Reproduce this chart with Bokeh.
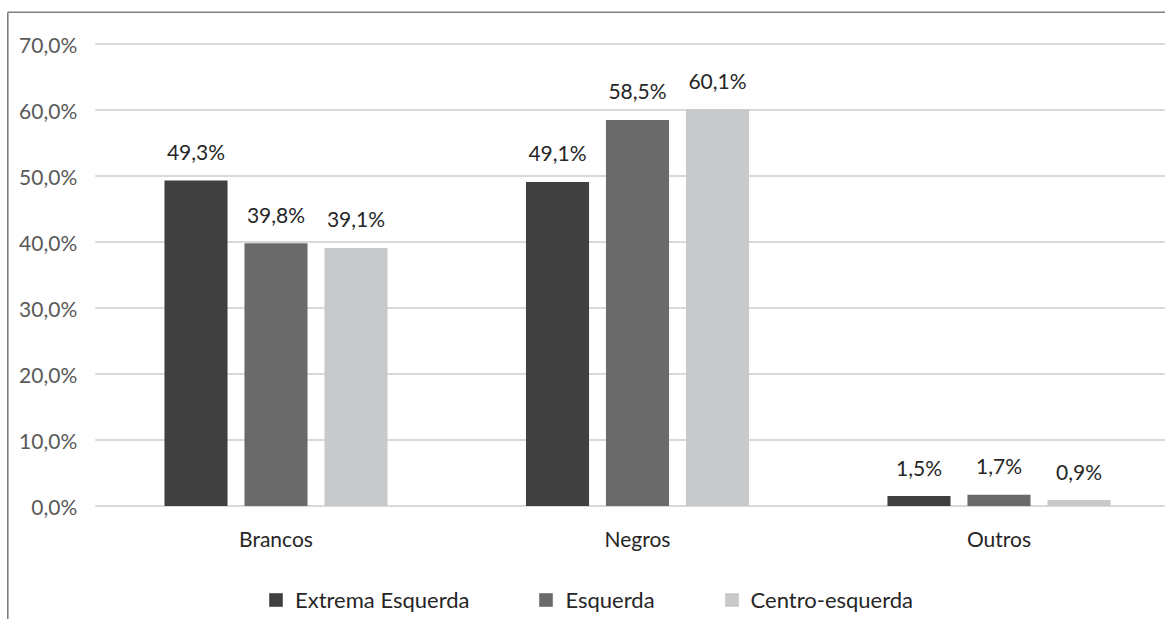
from bokeh.plotting import figure
from bokeh.models import ColumnDataSource, Range1d, Legend, LegendItem
from bokeh.core.properties import value
from bokeh.embed import file_html
from bokeh.resources import INLINE

categories = ["Brancos", "Negros", "Outros"]
series_names = ["Extrema Esquerda", "Esquerda", "Centro-esquerda"]
extrema = [49.3, 49.1, 1.5]
esquerda = [39.8, 58.5, 1.7]
centro = [39.1, 60.1, 0.9]
y_ticks = [0, 10, 20, 30, 40, 50, 60, 70]
y_tick_labels = ["0,0%", "10,0%", "20,0%", "30,0%", "40,0%", "50,0%", "60,0%", "70,0%"]

colors = ["#404040", "#6a6a6a", "#c8c9ca"]
FONT = "Lato"
FS = "21px"

W, H = 1165, 619
CAT_PX = 361.5            # pixels per category slot
FIRST_CENTER = 275.5      # canvas x of first category centre
PX_PER_UNIT = 6.6         # pixels per percentage point
ZERO_Y = 505.5            # canvas y of 0 %

x_start = -FIRST_CENTER / CAT_PX
x_end = x_start + W / CAT_PX
y_end = ZERO_Y / PX_PER_UNIT
y_start = -(H - ZERO_Y) / PX_PER_UNIT

def fmt(v):
    return f"{v:.1f}".replace(".", ",") + "%"

idx = list(range(len(categories)))
offsets = [-0.2213, 0.0, 0.2213]
bar_w = 0.1745

p = figure(x_range=Range1d(x_start, x_end), y_range=Range1d(y_start, y_end),
           width=W, height=H, output_backend="svg", toolbar_location=None,
           min_border=0)
p.axis.visible = False
p.grid.visible = False
p.outline_line_color = None
p.background_fill_color = "white"
p.border_fill_color = "white"

# gridlines across the category area
x_lo, x_hi = -0.5, len(categories) - 0.5
p.segment(x0=[x_lo] * len(y_ticks), x1=[x_hi] * len(y_ticks), y0=y_ticks, y1=y_ticks,
          line_color="#d9d9d9", line_width=2)

# y tick labels
p.text(x=[x_lo] * len(y_ticks), y=y_ticks, text=y_tick_labels, x_offset=-18,
       text_align="right", text_baseline="middle", text_font=value(FONT),
       text_font_size=FS, text_color="#595959")

series_vals = [extrema, esquerda, centro]
renderers = []
for i, vals in enumerate(series_vals):
    xs = [j + offsets[i] for j in idx]
    src = ColumnDataSource(dict(x=xs, top=vals, lab=[fmt(v) for v in vals]))
    r = p.vbar(x="x", top="top", bottom=0, width=bar_w, source=src,
               fill_color=colors[i], line_color=None)
    renderers.append(r)
    p.text(x="x", y="top", text="lab", source=src, text_align="center",
           text_baseline="middle", y_offset=-29, text_font=value(FONT),
           text_font_size=FS, text_color="#262626")

# category labels
p.text(x=idx, y=[0] * len(idx), text=categories, y_offset=32, text_align="center",
       text_baseline="middle", text_font=value(FONT), text_font_size=FS, text_color="#262626")

# outer border (left and top edges of the chart box)
top_border = y_end - 11.7 / PX_PER_UNIT
left_border = x_start + 7.3 / CAT_PX
p.segment(x0=[left_border], x1=[left_border], y0=[top_border], y1=[y_start], line_color="#7f7f7f", line_width=1.6)
p.segment(x0=[left_border], x1=[x_end], y0=[top_border], y1=[top_border], line_color="#7f7f7f", line_width=1.6)

legend = Legend(items=[LegendItem(label=series_names[i], renderers=[renderers[i]]) for i in range(3)],
                orientation="horizontal", location=(267, 6), spacing=68,
                glyph_width=17, glyph_height=17, label_height=22, label_text_font=FONT,
                label_text_font_size="22px", label_text_color="#262626", label_text_baseline="middle",
                border_line_color=None, background_fill_alpha=0, margin=0, padding=5,
                label_standoff=11)
p.add_layout(legend, "center")

open("out.html", "w").write(file_html(p, INLINE))
